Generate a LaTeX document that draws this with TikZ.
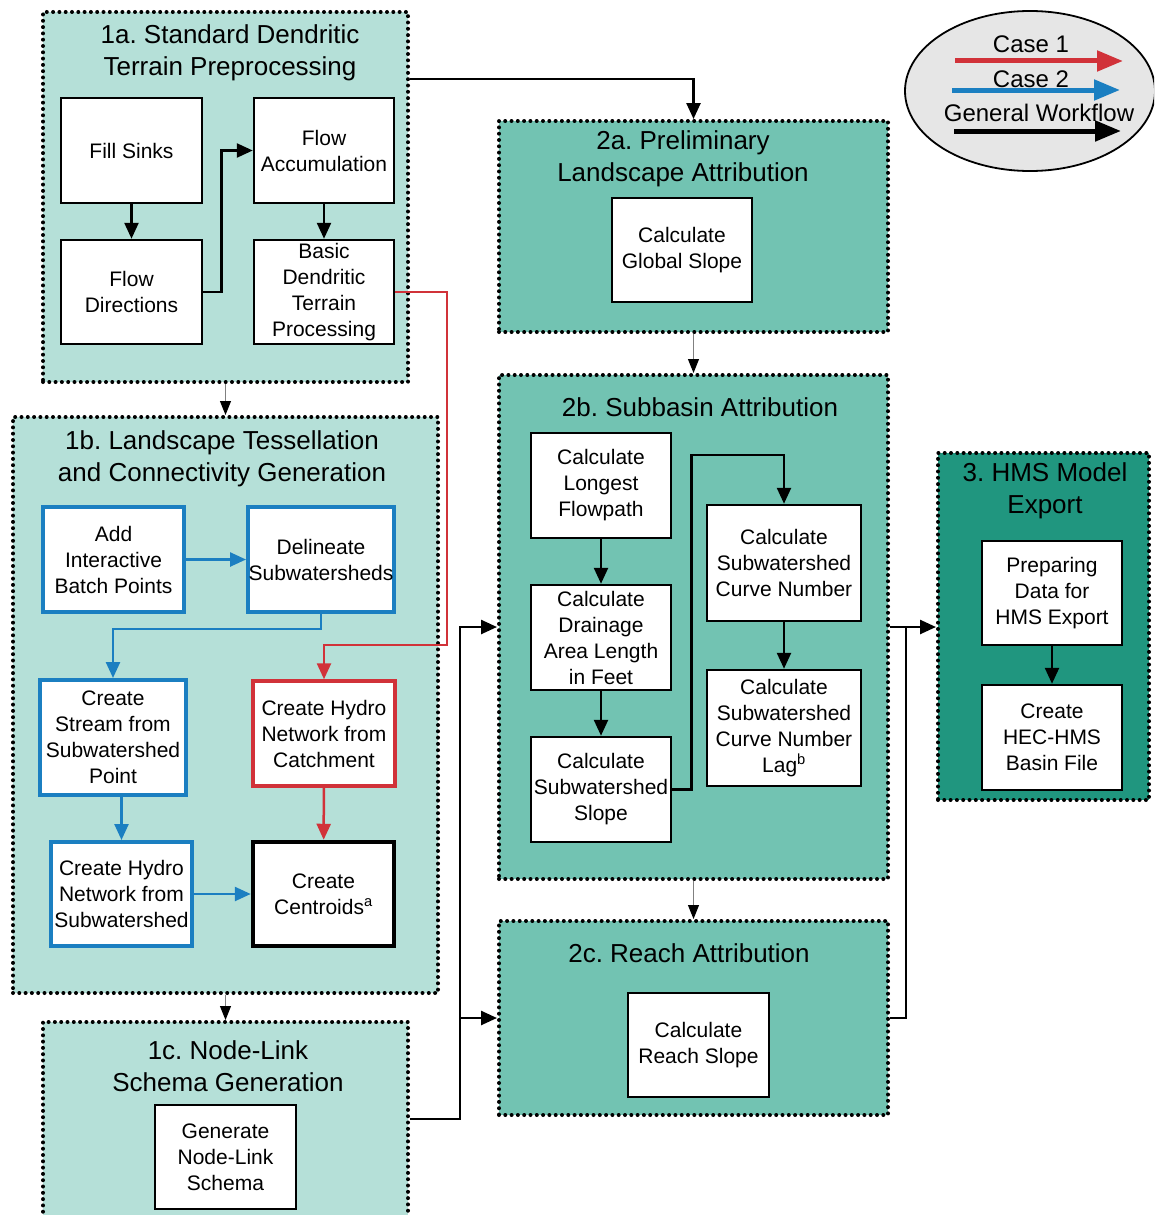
\documentclass[tikz,border=0pt]{standalone}
\usepackage{fontspec}
\setmainfont{Liberation Sans}
\usetikzlibrary{arrows.meta,calc,shapes.geometric}
\definecolor{tlight}{HTML}{B5E0D8}
\definecolor{tmid}{HTML}{72C3B2}
\definecolor{tdark}{HTML}{20967F}
\definecolor{cred}{HTML}{D13239}
\definecolor{cblue}{HTML}{1B7FC1}
\definecolor{legfill}{HTML}{E6E6E6}
\frenchspacing
\begin{document}
\begin{tikzpicture}[x=1pt,y=-1pt,
  grp/.style={rectangle, draw=black, line width=4pt, dash pattern=on 0pt off 6.3pt, line cap=round, inner sep=0pt},
  gtitle/.style={align=center, inner sep=0pt, font=\fontsize{26}{32}\selectfont},
  box/.style={rectangle, draw=black, line width=2.5pt, fill=white, align=center, inner sep=0pt, font=\fontsize{21}{26}\selectfont},
  bbox/.style={box, draw=cblue, line width=4pt},
  rbox/.style={box, draw=cred, line width=3.5pt},
  kbox/.style={box, line width=4.5pt},
  arr/.style={line width=2.5pt, -{Triangle[length=16pt,width=14pt]}},
  barr/.style={arr, draw=cblue, color=cblue},
  rarr/.style={arr, draw=cred, color=cred},
  thin/.style={draw=gray, line width=1pt, -{Triangle[length=14pt,width=11pt,fill=black,color=black]}},
  legarr/.style={line width=5pt, -{Triangle[length=26pt,width=20pt]}}
]
\useasboundingbox (0,0) rectangle (1154,1215);
\clip (0,0) rectangle (1154,1215);
\fill[white] (0,0) rectangle (1154,1215);

% ---------- groups ----------
\node[grp, fill=tlight, minimum width=365pt, minimum height=370pt] (g1a) at (225.5,197) {};
\node[gtitle] (t1a) at (230,53) {1a. Standard Dendritic\\Terrain Preprocessing};
\node[grp, fill=tlight, minimum width=425pt, minimum height=576pt] (g1b) at (225.5,705) {};
\node[gtitle] (t1b) at (222,459) {1b. Landscape Tessellation\\and Connectivity Generation};
\node[grp, fill=tlight, minimum width=365pt, minimum height=208pt] (g1c) at (225.5,1126) {};
\node[gtitle] (t1c) at (228,1066) {1c. Node-Link\\Schema Generation};

\node[grp, fill=tmid, minimum width=389pt, minimum height=211pt] (g2a) at (693.5,226.5) {};
\node[gtitle] (t2a) at (683,159) {2a. Preliminary\\Landscape Attribution};
\node[grp, fill=tmid, minimum width=389pt, minimum height=504pt] (g2b) at (693.5,627) {};
\node[gtitle] (t2b) at (700,407) {2b. Subbasin Attribution};
\node[grp, fill=tmid, minimum width=389pt, minimum height=194pt] (g2c) at (693.5,1018) {};
\node[gtitle] (t2c) at (689,953) {2c. Reach Attribution};

\node[grp, fill=tdark, minimum width=211pt, minimum height=347pt] (g3) at (1043.5,626.5) {};
\node[gtitle] (t3) at (1045,491) {3. HMS Model\\Export};

% ---------- 1a boxes ----------
\node[box, minimum width=141pt, minimum height=105pt] (fs) at (131.5,150.5) {Fill Sinks};
\node[box, minimum width=140pt, minimum height=105pt] (fa) at (324,150.5) {Flow\\Accumulation};
\node[box, minimum width=141pt, minimum height=104pt] (fd) at (131.5,292) {Flow\\Directions};
\node[box, minimum width=140pt, minimum height=104pt] (bd) at (324,292) {Basic\\Dendritic\\Terrain\\Processing};

% ---------- 1b boxes ----------
\node[bbox, minimum width=141pt, minimum height=105pt] (ad) at (113.5,559.5) {Add\\Interactive\\Batch Points};
\node[bbox, minimum width=146pt, minimum height=105pt] (dl) at (321,559.5) {Delineate\\Subwatersheds};
\node[bbox, minimum width=146pt, minimum height=115pt] (cs) at (113,737.5) {Create\\Stream from\\Subwatershed\\Point};
\node[rbox, minimum width=142pt, minimum height=105pt] (hc) at (324,733.5) {Create Hydro\\Network from\\Catchment};
\node[bbox, minimum width=141pt, minimum height=104pt] (hs) at (121.5,894) {Create Hydro\\Network from\\Subwatershed};
\node[kbox, minimum width=141pt, minimum height=104pt] (ce) at (323.5,894) {Create\\Centroids\textsuperscript{a}};

% ---------- 1c box ----------
\node[box, minimum width=141pt, minimum height=104pt] (gn) at (225.5,1157) {Generate\\Node-Link\\Schema};

% ---------- 2a box ----------
\node[box, minimum width=140pt, minimum height=104pt] (gs) at (682,250) {Calculate\\Global Slope};

% ---------- 2b boxes ----------
\node[box, minimum width=140pt, minimum height=105pt] (lf) at (601,485.5) {Calculate\\Longest\\Flowpath};
\node[box, minimum width=140pt, minimum height=105pt] (da) at (601,637.5) {Calculate\\Drainage\\Area Length\\in Feet};
\node[box, minimum width=140pt, minimum height=105pt] (ss) at (601,789.5) {Calculate\\Subwatershed\\Slope};
\node[box, minimum width=154pt, minimum height=116pt] (cn) at (784,563) {Calculate\\Subwatershed\\Curve Number};
\node[box, minimum width=154pt, minimum height=116pt] (lg) at (784,728) {Calculate\\Subwatershed\\Curve Number\\Lag\textsuperscript{b}};

% ---------- 2c box ----------
\node[box, minimum width=141pt, minimum height=104pt] (rs) at (698.5,1045) {Calculate\\Reach Slope};

% ---------- 3 boxes ----------
\node[box, minimum width=140pt, minimum height=104pt] (pd) at (1052,593) {Preparing\\Data for\\HMS Export};
\node[box, minimum width=140pt, minimum height=105pt] (hb) at (1052,737.5) {Create\\HEC-HMS\\Basin File};

% ---------- connectors inside groups ----------
\draw[arr] (fs) -- (fd);
\draw[arr] (fd.east) -- ++(18,0) |- (fa.west);
\draw[arr] (fa) -- (bd);

\draw[barr] (ad) -- (dl);
\draw[barr] (dl.south) -- ++(0,15) -| (cs.north);
\draw[barr] (hs.north |- cs.south) -- (hs.north);
\draw[barr] (hs) -- (ce);
\coordinate (r1) at (447,645);
\draw[rarr] (bd.east) -| (r1) -| (hc.north);
\draw[rarr] (hc) -- (ce);

\draw[arr] (lf) -- (da);
\draw[arr] (da) -- (ss);
\draw[arr] (ss.east) -- ++(19,0) |- ($(cn.north)+(0,-49)$) -- (cn.north);
\draw[arr] (cn) -- (lg);

\draw[arr] (pd) -- (hb);

% ---------- connectors between groups ----------
\draw[arr] (g1a.east |- 0,79) -| (g2a.north);
\draw[thin] (g1a.south) -- (g1b.north);
\draw[thin] (g1b.south) -- (g1c.north);
\draw[thin] (g2a.south) -- (g2b.north);
\draw[thin] (g2b.south) -- (g2c.north);

\coordinate (j1) at (460,1018);
\draw[arr] (g1c.east |- 0,1119) -| (j1 |- g2b.west) -- (g2b.west);
\draw[arr] (j1) -- (g2c.west);

\coordinate (j2) at (906,627);
\draw[arr] (g2b.east |- j2) -- (g3.west |- j2);
\draw[line width=2.5pt] (g2c.east) -| (j2);

% ---------- legend ----------
\node[ellipse, draw=black, line width=1.8pt, fill=legfill, minimum width=250pt, minimum height=160pt] (leg) at (1030,91) {};
\node[font=\fontsize{24}{28}\selectfont, inner sep=0pt] (l1) at (1031,44) {Case 1};
\node[font=\fontsize{24}{28}\selectfont, inner sep=0pt] (l2) at (1031,79) {Case 2};
\node[font=\fontsize{24}{28}\selectfont, inner sep=0pt] (l3) at (1039,113) {General Workflow};
\coordinate (a1s) at (955,61);  \coordinate (a1e) at (1123,61);
\coordinate (a2s) at (952,90);  \coordinate (a2e) at (1120,90);
\coordinate (a3s) at (954,131); \coordinate (a3e) at (1121,131);
\draw[legarr, draw=cred, color=cred] (a1s) -- (a1e);
\draw[legarr, draw=cblue, color=cblue] (a2s) -- (a2e);
\draw[legarr] (a3s) -- (a3e);
\end{tikzpicture}
\end{document}
